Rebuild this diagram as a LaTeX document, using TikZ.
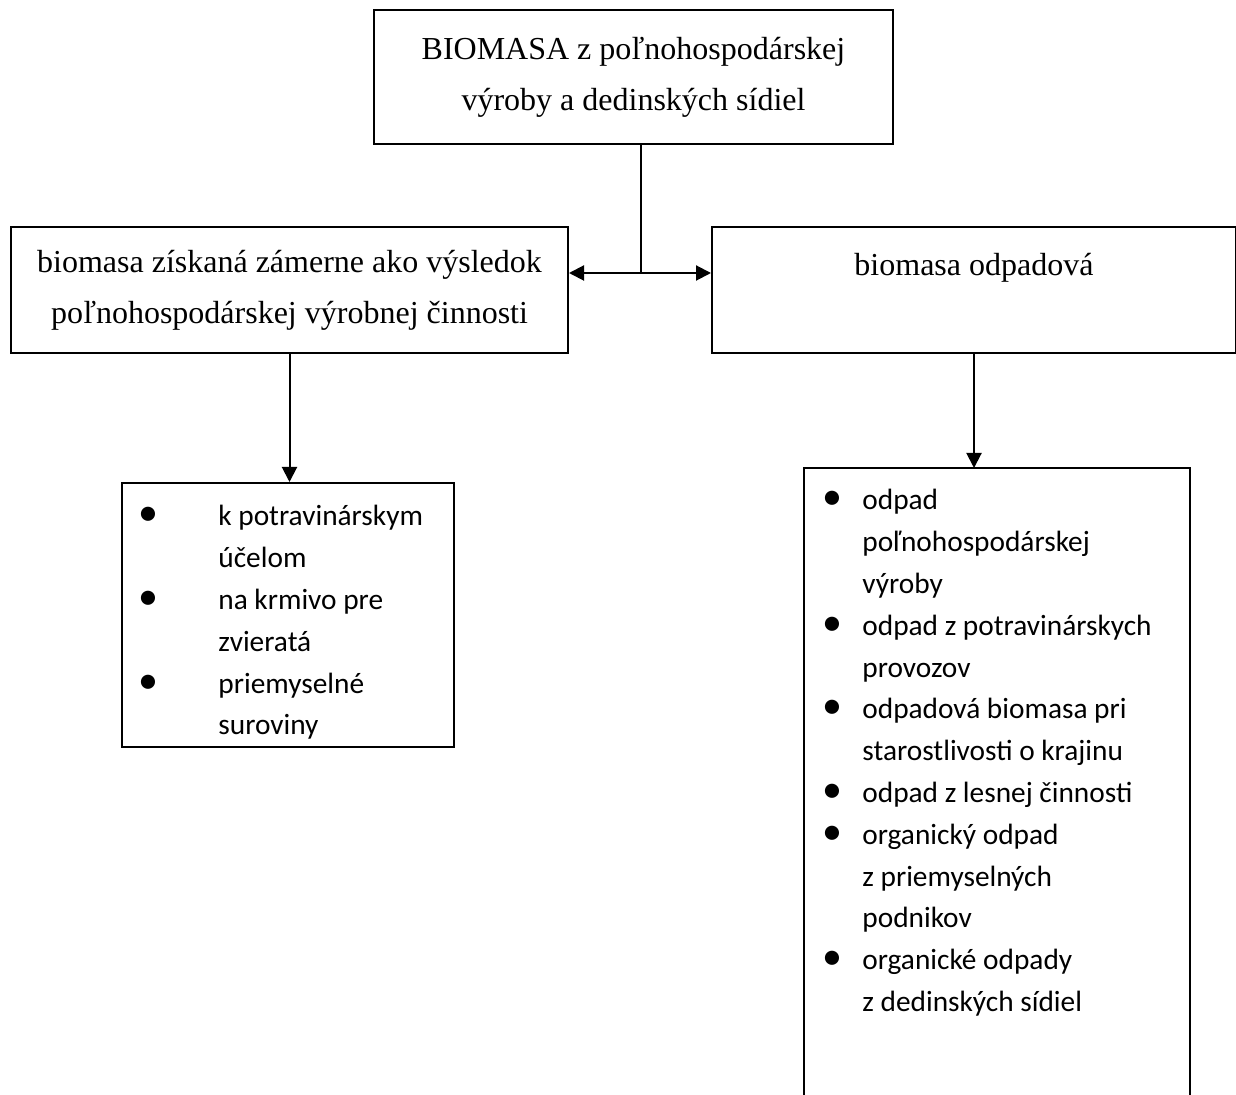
\documentclass[tikz,border=0pt]{standalone}
\usepackage{fontspec}
\setmainfont{Liberation Serif}
\newfontfamily\calibrifont{Carlito}
\usetikzlibrary{arrows.meta,positioning}
\newcommand{\blt}{\makebox[0pt]{\fontsize{20}{20}\selectfont\textbullet}}
\tikzset{
  boxframe/.style={rectangle,draw,line width=1pt,inner sep=0pt,anchor=north west,
    align=center,font=\fontsize{16}{25.5}\selectfont},
  listtxt/.style={anchor=base west,inner sep=0pt,
    font=\calibrifont\fontsize{14.67}{20.9}\selectfont},
  link/.style={line width=1pt},
  flow/.style={-{Triangle[length=7.5pt,width=7.5pt]},line width=1pt},
}
\begin{document}
\begin{tikzpicture}[x=0.5pt,y=-0.5pt]
  \useasboundingbox (0,0) rectangle (1236,1095);
  % boxes
  \node[boxframe,minimum width=259.5pt,minimum height=67pt] (top) at (373,9)
    {BIOMASA z poľnohospodárskej\\výroby a dedinských sídiel};
  \node[boxframe,minimum width=278.5pt,minimum height=63pt] (lbox) at (10,226)
    {biomasa získaná zámerne ako výsledok\\poľnohospodárskej výrobnej činnosti};
  \node[boxframe,minimum width=262pt,minimum height=63pt] (rbox) at (711,226)
    {biomasa odpadová\\\mbox{}};
  \node[boxframe,minimum width=166pt,minimum height=132pt] (llst) at (121,482) {};
  \node[rectangle,inner sep=0pt,anchor=north west,minimum width=192.5pt,
    minimum height=320pt] (rlst) at (804,468) {};
  \draw[link] (rlst.south west) -- (rlst.north west) -- (rlst.north east) -- (rlst.south east);
  % lists
  \node[listtxt] (ltxt) at (148,526) {\begin{tabular}[t]{@{}p{35pt}@{}l@{}}
    \blt & k potravinárskym\\
         & účelom\\
    \blt & na krmivo pre\\
         & zvieratá\\
    \blt & priemyselné\\
         & suroviny
  \end{tabular}};
  \node[listtxt] (rtxt) at (832,510) {\begin{tabular}[t]{@{}p{15pt}@{}l@{}}
    \blt & odpad\\
         & poľnohospodárskej\\
         & výroby\\
    \blt & odpad z potravinárskych\\
         & provozov\\
    \blt & odpadová biomasa pri\\
         & starostlivosti o krajinu\\
    \blt & odpad z lesnej činnosti\\
    \blt & organický odpad\\
         & z priemyselných\\
         & podnikov\\
    \blt & organické odpady\\
         & z dedinských sídiel
  \end{tabular}};
  % connectors
  \coordinate (jn) at (641,273);
  \draw[link] (top.south -| jn) -- (jn);
  \draw[flow] (jn) -- (jn -| lbox.east);
  \draw[flow] (jn) -- (jn -| rbox.west);
  \draw[flow] (lbox.south) -- (lbox.south |- llst.north);
  \draw[flow] (rbox.south) -- (rbox.south |- rlst.north);
\end{tikzpicture}
\end{document}
